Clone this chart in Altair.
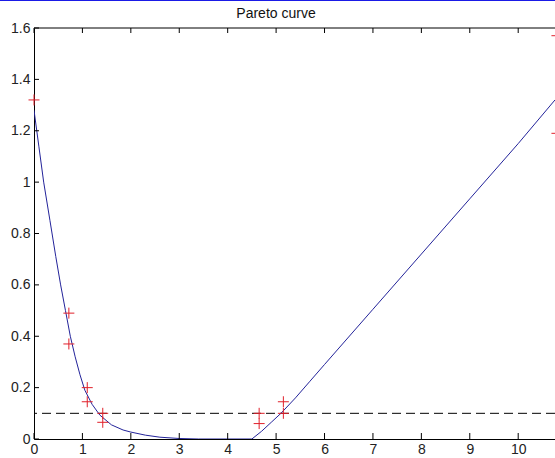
import altair as alt
import pandas as pd

# Curve (blue line)
curve_x = [0, 0.1, 0.2, 0.33, 0.45, 0.55, 0.65, 0.75, 0.85, 0.95, 1.05, 1.2, 1.36, 1.6, 1.84,
           2.0, 2.3, 2.6, 3.0, 3.4, 4.0, 4.5, 4.7, 4.9, 5.1, 5.4, 5.7, 6.0, 7.0, 8.0, 9.0, 10.0, 10.76]
curve_y = [1.28, 1.14, 1.0, 0.85, 0.71, 0.6, 0.5, 0.4, 0.32, 0.25, 0.19, 0.135, 0.093, 0.055, 0.035,
           0.027, 0.015, 0.007, 0.002, 0.0, 0.0, 0.0, 0.03, 0.065, 0.1, 0.16, 0.225, 0.29, 0.505, 0.72, 0.935, 1.15, 1.32]

# Red "+" markers
pts_x = [0, 0.72, 0.72, 1.1, 1.1, 1.42, 1.42, 4.65, 4.65, 5.15, 5.15, 10.8, 10.8]
pts_y = [1.32, 0.49, 0.37, 0.2, 0.145, 0.1, 0.065, 0.1, 0.06, 0.145, 0.1, 1.57, 1.19]

threshold = [0.1]
x_ticks = [0, 1, 2, 3, 4, 5, 6, 7, 8, 9, 10]
y_ticks = [0, 0.2, 0.4, 0.6, 0.8, 1.0, 1.2, 1.4, 1.6]
title_text = "Pareto curve"

W, H = 521, 411
FONT = "Liberation Sans"

xs = alt.Scale(domain=[0, 10.76], nice=False, zero=False)
ys = alt.Scale(domain=[0, 1.6], nice=False)

curve_df = pd.DataFrame({"x": curve_x, "y": curve_y})
pts_df = pd.DataFrame({"x": pts_x, "y": pts_y})
thr_df = pd.DataFrame({"y": threshold})
xt_df = pd.DataFrame({"x": x_ticks})
yt_df = pd.DataFrame({"y": y_ticks})

base_x = alt.X("x:Q", scale=xs,
               axis=alt.Axis(values=x_ticks, ticks=False, grid=False, title=None,
                             labelFont=FONT, labelFontSize=14, labelColor="#222",
                             labelPadding=3, domainColor="#000", labelFlush=False))
base_y = alt.Y("y:Q", scale=ys,
               axis=alt.Axis(values=y_ticks, ticks=False, grid=False, title=None,
                             labelFont=FONT, labelFontSize=14, labelColor="#222",
                             labelPadding=4, domainColor="#000",
                             labelExpr="format(datum.value, '.1~f')", labelFlush=False))

line = alt.Chart(curve_df).mark_line(color="#23239a", strokeWidth=1, clip=True).encode(
    x=base_x, y=base_y)

plus_path = "M-1,0L1,0M0,-1L0,1"
points = alt.Chart(pts_df).mark_point(shape=plus_path, size=121, filled=False,
                                      stroke="#e0202a", strokeWidth=1, opacity=1,
                                      clip=False).encode(
    x=alt.X("x:Q", scale=xs), y=alt.Y("y:Q", scale=ys))

dashed = alt.Chart(thr_df).mark_rule(color="#000", strokeWidth=1, strokeDash=[9, 5]).encode(
    y=alt.Y("y:Q", scale=ys))

bottom_ticks = alt.Chart(xt_df).mark_rule(color="#000", strokeWidth=1).encode(
    x=alt.X("x:Q", scale=xs), y=alt.value(H), y2=alt.value(H - 6))
top_ticks = alt.Chart(xt_df).mark_rule(color="#000", strokeWidth=1).encode(
    x=alt.X("x:Q", scale=xs), y=alt.value(0), y2=alt.value(5))
left_ticks = alt.Chart(yt_df).mark_rule(color="#000", strokeWidth=1).encode(
    y=alt.Y("y:Q", scale=ys), x=alt.value(0), x2=alt.value(5))

top_border = alt.Chart(thr_df).mark_rule(color="#000", strokeWidth=1).encode(
    x=alt.value(0), x2=alt.value(W), y=alt.value(0))

blue_bar = alt.Chart(thr_df).mark_rule(color="#1a1ae6", strokeWidth=2).encode(
    x=alt.value(-34), x2=alt.value(W), y=alt.value(-28))

title = alt.Chart(thr_df).mark_text(font=FONT, fontSize=14, color="#111",
                                    align="center", baseline="middle").encode(
    x=alt.value(242), y=alt.value(-14), text=alt.value(title_text))

chart = alt.layer(
    dashed, line, points, bottom_ticks, top_ticks, left_ticks, top_border, blue_bar, title
).properties(
    width=W, height=H,
    autosize=alt.AutoSizeParams(type="none"),
    padding={"left": 34, "top": 28, "right": 0, "bottom": 19},
    background="white",
).configure_view(stroke=None)

chart.save("out.html", embed_options={"renderer": "svg", "actions": False})
